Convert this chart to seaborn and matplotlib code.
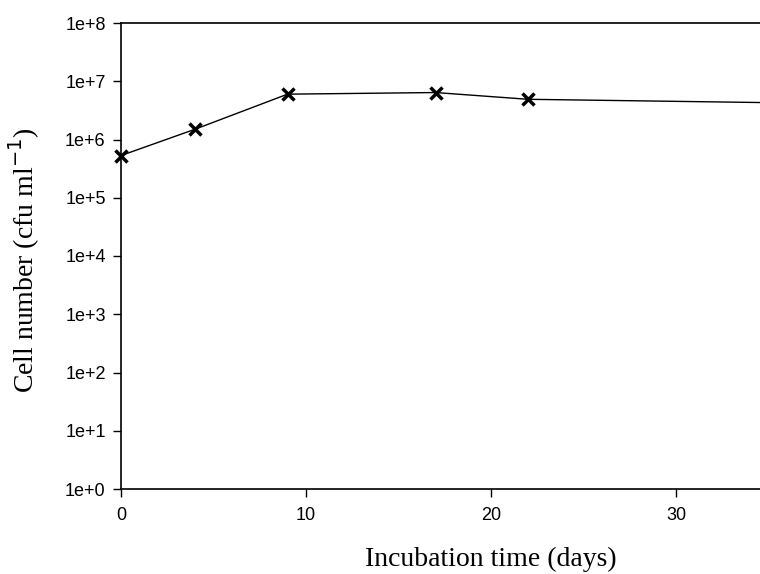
import numpy as np
import pandas as pd
import matplotlib
matplotlib.use("Agg")
import matplotlib.pyplot as plt
import seaborn as sns

# datos
days = [0, 4, 9, 17, 22, 36]
cells = [5.3e5, 1.5e6, 6.0e6, 6.4e6, 4.9e6, 4.25e6]
ytick_vals = [1e0, 1e1, 1e2, 1e3, 1e4, 1e5, 1e6, 1e7, 1e8]
ytick_labels = ["1e+0", "1e+1", "1e+2", "1e+3", "1e+4", "1e+5", "1e+6", "1e+7", "1e+8"]
xtick_vals = [0, 10, 20, 30]

df = pd.DataFrame({"dias": days, "celulas": cells})

sns.set_style("ticks")
plt.rcParams["font.family"] = ["Liberation Sans", "DejaVu Sans"]
plt.rcParams["text.color"] = "black"
plt.rcParams["axes.labelcolor"] = "black"

fig = plt.figure(figsize=(7.6, 5.74), dpi=100)
ax = fig.add_axes([121 / 760, 85 / 574, 639 / 760, 466 / 574])

sns.lineplot(data=df, x="dias", y="celulas", ax=ax, color="black", linewidth=1,
             marker="x", markersize=9, markeredgewidth=2.5, markeredgecolor="black")

ax.set_yscale("log")
ax.set_ylim(1e0, 1e8)
ax.set_xlim(0, 639 / 18.5)
ax.set_yticks(ytick_vals)
ax.set_yticklabels(ytick_labels)
ax.yaxis.set_minor_locator(matplotlib.ticker.NullLocator())
ax.set_xticks(xtick_vals)
ax.tick_params(axis="both", direction="out", length=6, width=1, labelsize=13, colors="black")
ax.tick_params(axis="x", pad=7)
ax.tick_params(axis="y", pad=5)

for s in ["left", "bottom", "top"]:
    ax.spines[s].set_linewidth(1.2)
    ax.spines[s].set_color("black")
ax.spines["right"].set_visible(False)

ax.set_xlabel("Incubation time (days)", family="Liberation Serif", fontsize=20, color="black")
ax.set_ylabel("Cell number (cfu ml$^{-1}$)", family="Liberation Serif", fontsize=20, color="black")
ax.xaxis.set_label_coords(0.579, -0.124)
ax.yaxis.set_label_coords(-0.124, 0.49)

# el marcador en x=0 no se corta, la linea si en el borde derecho
for ln in ax.lines:
    ln.set_clip_path(matplotlib.patches.Rectangle((-0.05, 0), 1.05, 1, transform=ax.transAxes))

fig.savefig("out.png", dpi=100)
